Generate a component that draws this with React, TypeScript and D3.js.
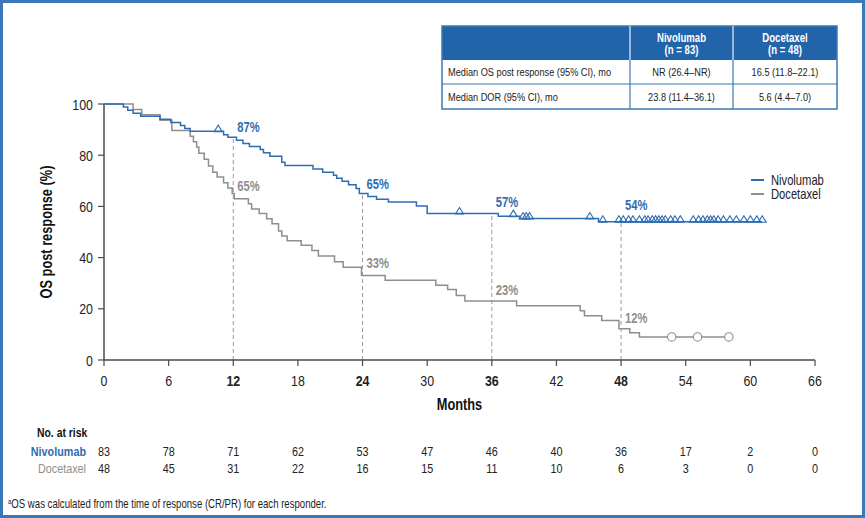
import React from "react";
import * as d3 from "d3";

// ---- data ----
const xTicks = [0, 6, 12, 18, 24, 30, 36, 42, 48, 54, 60, 66];
const boldTicks = [12, 24, 36, 48];
const yTicks = [0, 20, 40, 60, 80, 100];

// Kaplan–Meier steps: [month, survival % after the event]
const nivoSteps: [number, number][] = [
  [0, 100], [1.8, 98.8], [2.2, 97.6], [2.7, 96.4], [3.4, 95.2], [5.2, 94.0],
  [6.2, 92.8], [7.1, 91.6], [7.5, 90.4], [8.0, 89.4], [11.1, 88.0], [11.5, 87.0],
  [12.3, 85.8], [12.9, 84.6], [13.5, 83.4], [14.5, 82.2], [14.8, 81.0], [15.4, 79.6],
  [16.5, 77.2], [16.8, 76.0], [19.4, 74.6], [20.3, 73.3], [21.3, 72.2], [21.6, 71.0],
  [22.1, 69.8], [22.7, 68.5], [23.4, 67.0], [23.7, 65.0], [24.5, 63.9], [25.3, 62.8],
  [26.4, 61.7], [29.0, 60.2], [30.0, 57.2], [36.6, 56.2], [38.6, 55.3], [45.9, 54.0],
];
const nivoEnd = 61.1;
const nivoCensored = [
  10.6, 33.0, 38.0, 38.9, 39.2, 39.5, 45.1, 46.3,
  47.8, 48.2, 48.7, 49.1, 49.7, 50.2, 50.5, 50.9, 51.2, 51.5, 51.8, 52.1, 52.6, 53.0, 53.5,
  54.7, 55.2, 55.6, 56.0, 56.3, 56.6, 57.0, 57.5, 58.1, 58.7, 59.4, 60.0, 60.6, 61.1,
];

const doceSteps: [number, number][] = [
  [0, 100], [2.7, 97.9], [3.5, 95.8], [5.2, 93.7], [6.3, 89.6], [8.0, 87.4],
  [8.3, 85.3], [8.6, 83.2], [8.8, 80.8], [9.3, 78.4], [9.7, 75.8], [10.1, 73.3],
  [10.5, 71.5], [11.1, 69.2], [11.5, 67.2], [11.9, 65.0], [12.1, 63.0], [13.4, 61.0],
  [13.7, 59.0], [14.4, 57.2], [15.1, 55.2], [15.6, 53.2], [16.2, 50.4], [16.5, 48.4],
  [17.0, 46.6], [18.3, 44.8], [19.3, 42.8], [19.9, 40.6], [21.4, 38.4], [22.2, 36.2],
  [23.9, 33.0], [26.1, 31.2], [30.8, 29.2], [31.9, 27.5], [32.7, 25.2], [33.5, 23.0],
  [38.3, 21.2], [44.2, 19.2], [44.6, 17.3], [46.2, 15.4], [47.8, 12.2], [48.8, 10.6],
  [49.7, 9.0],
];
const doceEnd = 58.0;
const doceCensored = [52.7, 55.1, 58.0];

const landmarks = [12, 24, 36, 48];
const nivoLandmarkPct = [87, 65, 57, 54];
const doceLandmarkPct = [65, 33, 23, 12];

const riskNivo = [83, 78, 71, 62, 53, 47, 46, 40, 36, 17, 2, 0];
const riskDoce = [48, 45, 31, 22, 16, 15, 11, 10, 6, 3, 0, 0];

const tableHeaders = ["Nivolumab", "(n = 83)", "Docetaxel", "(n = 48)"];
const tableRowLabels = ["Median OS post response (95% CI), mo", "Median DOR (95% CI), mo"];
const tableNivo = ["NR (26.4–NR)", "23.8 (11.4–36.1)"];
const tableDoce = ["16.5 (11.8–22.1)", "5.6 (4.4–7.0)"];

// ---- styles ----
const W = 865;
const H = 518;
const FONT = "'Liberation Sans', Arial, sans-serif";
const NARROW = 0.8; // horizontal squeeze for a condensed look
const BLUE = "#2f6db3";
const GRAY = "#8e8e8e";
const FRAME = "#3b78b8";
const AXIS = "#4a4a4a";

// label offsets above the curve at each landmark
const nivoLabelDy = [-5, -5, -7, -12];
const doceLabelDy = [-3, -8, -6, -6];

const x = d3.scaleLinear().domain([0, 66]).range([104, 815]);
const y = d3.scaleLinear().domain([0, 100]).range([360, 104]);

const stepLine = d3
  .line<[number, number]>()
  .x((d) => x(d[0]))
  .y((d) => y(d[1]))
  .curve(d3.curveStepAfter);

function survivalAt(steps: [number, number][], t: number) {
  const i = d3.bisector((d: [number, number]) => d[0]).right(steps, t) - 1;
  return steps[Math.max(0, i)][1];
}

function triangle(cx: number, cy: number) {
  return `M${cx},${cy - 6.5} L${cx + 4},${cy} L${cx - 4},${cy} Z`;
}

// condensed text, anchored at (x, y)
function T(props: any) {
  const { x: tx, y: ty, s = NARROW, children, ...rest } = props;
  return (
    <text transform={`translate(${tx},${ty}) scale(${s},1)`} {...rest}>
      {children}
    </text>
  );
}

export default function App() {
  const nivoPath = stepLine([...nivoSteps, [nivoEnd, nivoSteps[nivoSteps.length - 1][1]]]);
  const docePath = stepLine([...doceSteps, [doceEnd, doceSteps[doceSteps.length - 1][1]]]);

  // table geometry
  const tx0 = 442, tx1 = 630, tx2 = 733, tx3 = 837;
  const ty0 = 26, ty1 = 60, ty2 = 84, ty3 = 109;

  return (
    <div style={{ position: "absolute", left: 0, top: 0 }}>
      <svg width={W} height={H} style={{ display: "block", fontFamily: FONT }}>
        <rect x={0} y={0} width={W} height={H} fill="#fff" />
        <rect x={1.5} y={1.5} width={W - 3} height={H - 3} fill="none" stroke={FRAME} strokeWidth={3} />

        {/* summary table */}
        <g>
          <rect x={tx0} y={ty0} width={tx3 - tx0} height={ty1 - ty0} fill="#2264aa" />
          <rect x={tx0} y={ty0} width={tx3 - tx0} height={ty3 - ty0} fill="none" stroke={FRAME} strokeWidth={1.5} />
          <line x1={tx0} x2={tx3} y1={ty2} y2={ty2} stroke={FRAME} strokeWidth={1.2} />
          <line x1={tx1} x2={tx1} y1={ty0} y2={ty3} stroke={FRAME} strokeWidth={1.2} />
          <line x1={tx2} x2={tx2} y1={ty0} y2={ty3} stroke={FRAME} strokeWidth={1.2} />
          <line x1={tx1} x2={tx1} y1={ty0} y2={ty1} stroke="#fff" strokeWidth={1} />
          <line x1={tx2} x2={tx2} y1={ty0} y2={ty1} stroke="#fff" strokeWidth={1} />
          <T x={(tx1 + tx2) / 2} y={42} textAnchor="middle" fill="#fff" fontWeight="bold" fontSize={12}>{tableHeaders[0]}</T>
          <T x={(tx1 + tx2) / 2} y={54} textAnchor="middle" fill="#fff" fontWeight="bold" fontSize={12}>{tableHeaders[1]}</T>
          <T x={(tx2 + tx3) / 2} y={42} textAnchor="middle" fill="#fff" fontWeight="bold" fontSize={12}>{tableHeaders[2]}</T>
          <T x={(tx2 + tx3) / 2} y={54} textAnchor="middle" fill="#fff" fontWeight="bold" fontSize={12}>{tableHeaders[3]}</T>
          {tableRowLabels.map((lab, i) => {
            const cy = i === 0 ? (ty1 + ty2) / 2 : (ty2 + ty3) / 2;
            return (
              <g key={lab} fontSize={11.5} fill="#222">
                <T x={tx0 + 6} y={cy + 4}>{lab}</T>
                <T x={(tx1 + tx2) / 2} y={cy + 4} textAnchor="middle">{tableNivo[i]}</T>
                <T x={(tx2 + tx3) / 2} y={cy + 4} textAnchor="middle">{tableDoce[i]}</T>
              </g>
            );
          })}
        </g>

        {/* landmark guides */}
        {landmarks.map((m, i) => (
          <line key={m} x1={x(m)} x2={x(m)} y1={y(0)} y2={y(nivoLandmarkPct[i])}
            stroke="#9a9a9a" strokeWidth={1} strokeDasharray="4,3" />
        ))}

        {/* axes */}
        <line x1={x(0)} x2={x(0)} y1={y(0)} y2={y(100)} stroke={AXIS} strokeWidth={1.5} />
        <line x1={x(0)} x2={x(66)} y1={y(0)} y2={y(0)} stroke={AXIS} strokeWidth={1.5} />
        {yTicks.map((t) => (
          <g key={t}>
            <line x1={x(0) - 6} x2={x(0)} y1={y(t)} y2={y(t)} stroke={AXIS} strokeWidth={1.2} />
            <T x={x(0) - 11} y={y(t) + 5.5} textAnchor="end" fontSize={15.5} fill="#222">{t}</T>
          </g>
        ))}
        {xTicks.map((t) => {
          const b = boldTicks.includes(t);
          return (
            <g key={t}>
              <line x1={x(t)} x2={x(t)} y1={y(0)} y2={y(0) + 6} stroke={AXIS} strokeWidth={1.2} />
              <T x={x(t)} y={386} textAnchor="middle" fontSize={15.5} fill="#222" fontWeight={b ? "bold" : "normal"}>{t}</T>
            </g>
          );
        })}
        <T x={(x(0) + x(66)) / 2} y={410} textAnchor="middle" fontSize={16} fontWeight="bold" fill="#111">Months</T>
        <text transform={`translate(52,${(y(0) + y(100)) / 2}) rotate(-90) scale(${NARROW},1)`} textAnchor="middle" fontSize={16} fontWeight="bold" fill="#111">OS post response (%)</text>

        {/* curves */}
        <path d={docePath ?? ""} fill="none" stroke={GRAY} strokeWidth={1.5} />
        <path d={nivoPath ?? ""} fill="none" stroke={BLUE} strokeWidth={1.5} />
        {doceCensored.map((t, i) => (
          <circle key={i} cx={x(t)} cy={y(survivalAt(doceSteps, t))} r={4.2} fill="#fff" stroke={GRAY} strokeWidth={1.1} />
        ))}
        {nivoCensored.map((t, i) => (
          <path key={i} d={triangle(x(t), y(survivalAt(nivoSteps, t)) + 0.5)} fill="none" stroke={BLUE} strokeWidth={1.1} />
        ))}

        {/* landmark labels */}
        {landmarks.map((m, i) => (
          <g key={m}>
            <T x={x(m) + 4} y={y(nivoLandmarkPct[i]) + nivoLabelDy[i]} fontSize={14} fontWeight="bold" fill={BLUE}>{nivoLandmarkPct[i]}%</T>
            <T x={x(m) + 4} y={y(doceLandmarkPct[i]) + doceLabelDy[i]} fontSize={14} fontWeight="bold" fill={GRAY}>{doceLandmarkPct[i]}%</T>
          </g>
        ))}

        {/* legend */}
        <line x1={751} x2={764} y1={180} y2={180} stroke={BLUE} strokeWidth={2} />
        <T x={771} y={185} fontSize={14} fill="#222">Nivolumab</T>
        <line x1={751} x2={764} y1={194} y2={194} stroke={GRAY} strokeWidth={2} />
        <T x={771} y={199} fontSize={14} fill="#222">Docetaxel</T>

        {/* number at risk */}
        <T x={37} y={437} fontSize={13} fontWeight="bold" fill="#111">No. at risk</T>
        <T x={86} y={456} fontSize={13.5} fontWeight="bold" fill={BLUE} textAnchor="end">Nivolumab</T>
        <T x={86} y={473} fontSize={13.5} fill={GRAY} textAnchor="end">Docetaxel</T>
        {xTicks.map((t, i) => (
          <g key={t}>
            <T x={x(t)} y={456} fontSize={13.5} textAnchor="middle" fill="#222">{riskNivo[i]}</T>
            <T x={x(t)} y={473} fontSize={13.5} textAnchor="middle" fill="#222">{riskDoce[i]}</T>
          </g>
        ))}

        <T x={8} y={508} fontSize={12} fill="#222">
          <tspan fontSize={7.5} dy={-4}>a</tspan>
          <tspan dy={4}>OS was calculated from the time of response (CR/PR) for each responder.</tspan>
        </T>
      </svg>
    </div>
  );
}
